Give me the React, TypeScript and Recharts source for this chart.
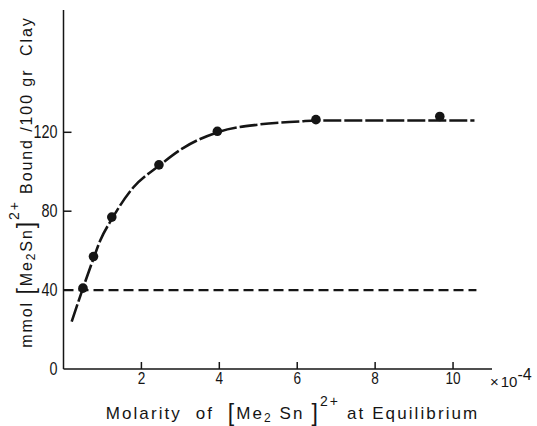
import React from 'react';
import { ComposedChart, Line, Scatter, XAxis, YAxis, Label } from 'recharts';

// Tick labels
const xTicks = [2, 4, 6, 8, 10];
const yTicks = [0, 40, 80, 120];

// Measured points (molarity ×10^-4, mmol bound / 100 g clay)
const pointX = [0.5, 0.77, 1.24, 2.45, 3.95, 6.48, 9.66];
const pointY = [41, 57, 77, 103.5, 120.5, 126.4, 128];

// Hand-drawn fitted curve
const curveX = [0.21, 0.5, 0.77, 0.94, 1.24, 1.79, 2.45, 3.07, 3.95, 5.04, 6.07, 6.48, 8.0, 9.66, 10.55];
const curveY = [24, 41, 56, 65, 76, 92, 103, 112, 120, 124, 125.5, 126, 126, 126, 126];

// Dashed reference level
const refX = [0, 10.6];
const refY = [40, 40];

const points = pointX.map((x, i) => ({ x, y: pointY[i] }));
const curve = curveX.map((x, i) => ({ x, y: curveY[i] }));
const ref = refX.map((x, i) => ({ x, y: refY[i] }));

const INK = '#151515';
const FONT = '"Liberation Sans", Arial, sans-serif';

const XTick = (props: any) => {
  const { x, y, payload } = props;
  const axisY = y - 4;
  return (
    <g>
      <line x1={x} x2={x} y1={axisY} y2={axisY - 7} stroke={INK} strokeWidth={1.5} />
      <text
        transform={`translate(${x} ${y}) scale(0.85 1)`}
        dy="0.71em"
        textAnchor="middle"
        fontSize={16}
        fill={INK}
        fontFamily={FONT}
      >
        {payload.value}
      </text>
    </g>
  );
};

const YTick = (props: any) => {
  const { x, y, payload } = props;
  const axisX = x + 6;
  return (
    <g>
      {payload.value !== 0 && (
        <line x1={axisX} x2={axisX + 8} y1={y} y2={y} stroke={INK} strokeWidth={1.5} />
      )}
      <text
        transform={`translate(${x} ${y}) scale(0.8 1)`}
        dy="0.34em"
        textAnchor="end"
        fontSize={18}
        fill={INK}
        fontFamily={FONT}
      >
        {payload.value}
      </text>
    </g>
  );
};

const XLabel = (props: any) => {
  const vb = props.viewBox;
  return (
    <g>
      <text
        x={vb.x + vb.width - 2}
        y={vb.y + 18}
        fontSize={15}
        fill={INK}
        fontFamily={FONT}
        textAnchor="start"
      >
        ×<tspan dx={2}>10</tspan><tspan dy={-7} fontSize={16}>-4</tspan>
      </text>
      <text
        x={vb.x + 229}
        y={vb.y + 50}
        fontSize={17}
        fill={INK}
        fontFamily={FONT}
        textAnchor="middle"
        letterSpacing={2.1}
      >
        Molarity{'\u00a0\u00a0'}of{'\u00a0\u00a0'}
        <tspan fontSize={23} dy={2}>[</tspan>
        <tspan dy={-2}>Me</tspan>
        <tspan fontSize={12} dy={3}>2</tspan>
        <tspan dy={-3}>{'\u00a0'}Sn{'\u00a0'}</tspan>
        <tspan fontSize={23} dy={2}>]</tspan>
        <tspan fontSize={14} dy={-15}>2+</tspan>
        <tspan dy={13}>{'\u00a0'}at{'\u00a0'}Equilibrium</tspan>
      </text>
    </g>
  );
};

const YLabel = () => {
  const cx = 32;
  const cy = 182;
  return (
    <text
      x={cx}
      y={cy}
      transform={`rotate(-90 ${cx} ${cy})`}
      fontSize={16}
      fill={INK}
      fontFamily={FONT}
      textAnchor="middle"
      letterSpacing={1.9}
    >
      mmol{'\u00a0'}
      <tspan fontSize={23} dy={2}>[</tspan>
      <tspan dy={-2}>Me</tspan>
      <tspan fontSize={12} dy={3}>2</tspan>
      <tspan dy={-3}>Sn</tspan>
      <tspan fontSize={23} dy={2}>]</tspan>
      <tspan fontSize={14} dy={-15}>2+</tspan>
      <tspan dy={13}>{'\u00a0'}Bound{'\u00a0'}/100{'\u00a0'}gr{'\u00a0\u00a0'}Clay</tspan>
    </text>
  );
};

export default function App() {
  return (
    <div style={{ position: 'absolute', left: 0, top: 0, width: 537, height: 426, background: '#fff' }}>
      <ComposedChart
        width={537}
        height={426}
        margin={{ top: 10, right: 45, bottom: 0, left: 0 }}
      >
        <XAxis
          type="number"
          dataKey="x"
          domain={[0, 11]}
          ticks={xTicks}
          allowDataOverflow
          height={57}
          tickSize={0}
          tickMargin={4}
          tickLine={false}
          tick={<XTick />}
          axisLine={{ stroke: INK, strokeWidth: 1.5 }}
        >
          <Label content={<XLabel />} />
        </XAxis>
        <YAxis
          type="number"
          dataKey="y"
          domain={[0, 182]}
          ticks={yTicks}
          allowDataOverflow
          width={63.5}
          tickSize={0}
          tickMargin={6}
          tickLine={false}
          tick={<YTick />}
          axisLine={{ stroke: INK, strokeWidth: 1.5 }}
        >
          <Label content={<YLabel />} />
        </YAxis>
        <Line
          data={ref}
          dataKey="y"
          type="linear"
          stroke={INK}
          strokeWidth={2.2}
          strokeDasharray="10 5"
          dot={false}
          activeDot={false}
          isAnimationActive={false}
        />
        <Line
          data={curve}
          dataKey="y"
          type="monotone"
          stroke={INK}
          strokeWidth={2.6}
          strokeDasharray="18 3"
          dot={false}
          activeDot={false}
          isAnimationActive={false}
        />
        <Scatter
          data={points}
          dataKey="y"
          fill={INK}
          shape={(p: any) => <circle cx={p.cx} cy={p.cy} r={4.8} fill={INK} />}
          isAnimationActive={false}
        />
      </ComposedChart>
    </div>
  );
}
